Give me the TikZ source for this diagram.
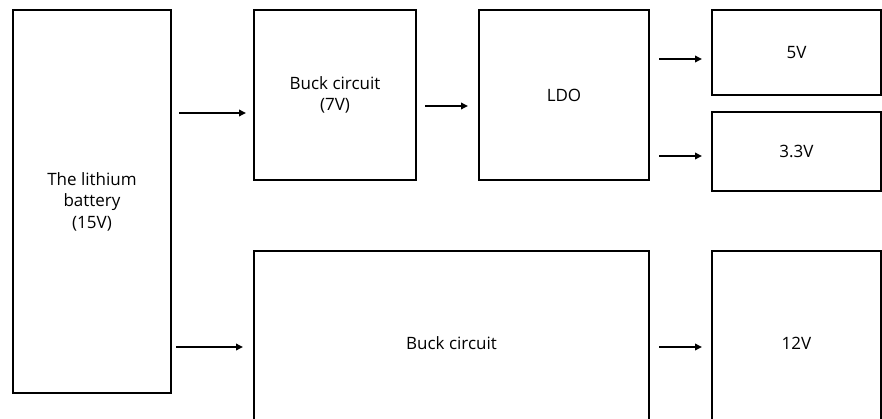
\documentclass[tikz,border=0pt]{standalone}
\usepackage{fontspec}
\setmainfont{Open Sans}
\usepackage{tikz}
\usetikzlibrary{positioning, arrows.meta}

\begin{document}
\begin{tikzpicture}[x=1pt, y=-1pt,
    block/.style={draw=black, line width=2.2pt, fill=white, outer sep=0pt,
                  inner sep=2pt, align=center, font=\fontsize{17}{21.5}\selectfont},
    link/.style={line width=1.8pt, -{Triangle[length=7pt, width=6.5pt]}}]
    \useasboundingbox (0,0) rectangle (882,419);
    \clip (0,0) rectangle (882,419);

    \node[block, minimum width=158pt, minimum height=383pt] (battery) at (92,201.5)
        {The lithium\\battery\\(15V)};
    \node[block, minimum width=162pt, minimum height=170pt] (buck7) at (335,95)
        {Buck circuit\\(7V)};
    \node[block, minimum width=170pt, minimum height=170pt] (ldo) at (564,95) {LDO};
    \node[block, minimum width=169pt, minimum height=85pt] (v5) at (796.5,52.5) {5V};
    \node[block, minimum width=169pt, minimum height=79pt] (v33) at (796.5,151.5) {3.3V};
    \node[block, minimum width=395pt, minimum height=184pt] (buck) at (451.5,343) {Buck circuit};
    \node[block, minimum width=169pt, minimum height=184pt] (v12) at (796.5,343) {12V};

    \draw[link, shorten <=8pt, shorten >=8pt] (battery.east |- 0,113) -- (buck7.west |- 0,113);
    \draw[link, shorten <=5pt, shorten >=11pt] (battery.east |- 0,347) -- (buck.west |- 0,347);
    \draw[link, shorten <=9pt, shorten >=11pt] (buck7.east |- 0,106) -- (ldo.west |- 0,106);
    \draw[link, shorten <=10pt, shorten >=10pt] (ldo.east |- 0,59) -- (v5.west |- 0,59);
    \draw[link, shorten <=10pt, shorten >=10pt] (ldo.east |- 0,156) -- (v33.west |- 0,156);
    \draw[link, shorten <=10pt, shorten >=10pt] (buck.east |- 0,347) -- (v12.west |- 0,347);
\end{tikzpicture}
\end{document}
